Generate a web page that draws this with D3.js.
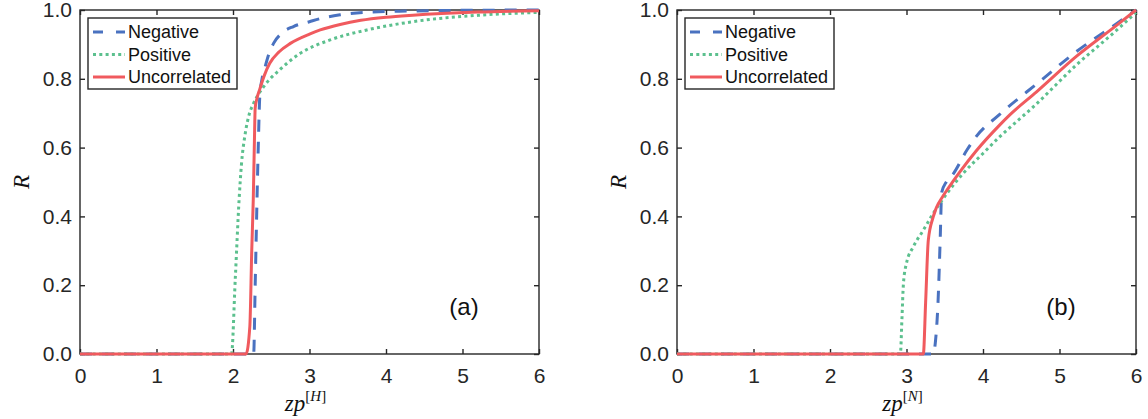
<!DOCTYPE html>
<html>
<head>
<meta charset="utf-8">
<script src="https://cdn.jsdelivr.net/npm/d3@7"></script>
<style>
  body { margin: 0; background: #fff; }
  svg { display: block; }
</style>
</head>
<body>
<svg id="chart" width="1148" height="419"></svg>
<script>
// ticks
const xTicks = [0, 1, 2, 3, 4, 5, 6];
const yTicks = [0, 0.2, 0.4, 0.6, 0.8, 1.0];
const seriesNames = ['Negative', 'Positive', 'Uncorrelated'];

// panel (a): R vs zp^[H]
const hNegX = [0, 2.27, 2.29, 2.31, 2.33, 2.35, 2.38, 2.42, 2.47, 2.53, 2.64, 2.79, 3.0, 3.14, 3.4, 3.7, 4.3, 5.0, 6.0];
const hNegR = [0, 0, 0.2, 0.41, 0.6, 0.748, 0.8, 0.835, 0.873, 0.903, 0.933, 0.952, 0.966, 0.975, 0.986, 0.993, 0.997, 0.999, 1.0];
const hPosX = [0, 1.98, 2.03, 2.08, 2.11, 2.16, 2.21, 2.27, 2.4, 2.61, 2.88, 3.27, 3.75, 4.35, 5.23, 6.0];
const hPosR = [0, 0, 0.22, 0.45, 0.55, 0.641, 0.695, 0.729, 0.777, 0.826, 0.874, 0.913, 0.942, 0.966, 0.985, 0.993];
const hUncX = [0, 2.17, 2.22, 2.245, 2.265, 2.28, 2.29, 2.31, 2.35, 2.41, 2.48, 2.6, 2.75, 3.0, 3.14, 3.4, 3.67, 4.0, 4.35, 5.2, 6.0];
const hUncR = [0, 0, 0.08, 0.3, 0.45, 0.62, 0.715, 0.74, 0.77, 0.81, 0.845, 0.878, 0.903, 0.93, 0.942, 0.958, 0.97, 0.979, 0.985, 0.994, 0.998];

// panel (b): R vs zp^[N]
const nNegX = [0, 3.35, 3.38, 3.41, 3.44, 3.46, 3.52, 3.6, 3.79, 3.91, 4.21, 4.74, 5.22, 5.75, 6.0];
const nNegR = [0, 0, 0.04, 0.14, 0.33, 0.47, 0.5, 0.52, 0.593, 0.632, 0.695, 0.792, 0.879, 0.961, 1.0];
const nPosX = [0, 2.92, 2.94, 2.96, 3.0, 3.09, 3.22, 3.35, 3.53, 3.74, 4.0, 4.22, 4.35, 4.66, 5.22, 5.75, 6.0];
const nPosR = [0, 0, 0.1, 0.205, 0.264, 0.312, 0.36, 0.409, 0.467, 0.525, 0.583, 0.632, 0.658, 0.719, 0.84, 0.942, 0.993];
const nUncX = [0, 3.22, 3.25, 3.285, 3.35, 3.48, 3.54, 3.7, 3.91, 4.22, 4.35, 4.7, 5.22, 5.75, 6.0];
const nUncR = [0, 0, 0.15, 0.331, 0.399, 0.46, 0.48, 0.53, 0.59, 0.666, 0.695, 0.762, 0.865, 0.956, 1.0];

const colors = { Negative: '#4a72c0', Positive: '#5cc08e', Uncorrelated: '#f05a5e' };
const dashes = { Negative: '12,10', Positive: '3,3.3', Uncorrelated: null };
const legendDashes = { Negative: '10,13', Positive: '3,3.3', Uncorrelated: null };
const ink = '#262626';
const sans = '"Liberation Sans", Arial, Helvetica, sans-serif';
const serif = '"Liberation Serif", "Times New Roman", serif';

const svg = d3.select('#chart');

function zip(xs, rs) {
    return xs.map((v, i) => ({ x: v, r: rs[i] }));
}

function drawPanel(opts) {
    let x = d3.scaleLinear().domain([0, 6]).range([opts.left, opts.right]);
    let y = d3.scaleLinear().domain([0, 1]).range([354, 10]);
    let g = svg.append('g');

    // frame
    g.append('rect')
        .attr('x', opts.left).attr('y', y(1))
        .attr('width', opts.right - opts.left).attr('height', y(0) - y(1))
        .attr('fill', 'none').attr('stroke', ink).attr('stroke-width', 1.4);

    // inward ticks on all four sides
    let bottom = g.append('g').attr('transform', `translate(0,${y(0)})`)
        .call(d3.axisBottom(x).tickValues(xTicks).tickSize(-5).tickPadding(14).tickFormat(d3.format('d')));
    let top = g.append('g').attr('transform', `translate(0,${y(1)})`)
        .call(d3.axisTop(x).tickValues(xTicks).tickSize(-5).tickFormat(''));
    let left = g.append('g').attr('transform', `translate(${opts.left},0)`)
        .call(d3.axisLeft(y).tickValues(yTicks).tickSize(-5).tickPadding(8).tickFormat(d3.format('.1f')));
    let right = g.append('g').attr('transform', `translate(${opts.right},0)`)
        .call(d3.axisRight(y).tickValues(yTicks).tickSize(-5).tickFormat(''));

    [bottom, top, left, right].forEach(a => {
        a.select('.domain').remove();
        a.selectAll('line').attr('stroke', ink).attr('stroke-width', 1.4);
        a.selectAll('text').attr('fill', ink).style('font-family', sans).style('font-size', '21px');
    });

    // curves
    let line = d3.line()
        .x(d => x(d.x))
        .y(d => y(d.r))
        .curve(d3.curveMonotoneX);

    opts.series.forEach(s => {
        g.append('path')
            .datum(zip(s.xs, s.rs))
            .attr('d', line)
            .attr('fill', 'none')
            .attr('stroke', colors[s.name])
            .attr('stroke-width', 3)
            .attr('stroke-dasharray', dashes[s.name]);
    });

    // legend
    let lg = g.append('g').attr('transform', `translate(${opts.left + 8},18)`);
    lg.append('rect')
        .attr('width', 149).attr('height', 71)
        .attr('fill', '#fff').attr('stroke', ink).attr('stroke-width', 1.4);
    seriesNames.forEach((name, i) => {
        let yy = 14 + i * 22.5;
        lg.append('line')
            .attr('x1', 5).attr('x2', 37).attr('y1', yy).attr('y2', yy)
            .attr('stroke', colors[name]).attr('stroke-width', 3)
            .attr('stroke-dasharray', legendDashes[name]);
        lg.append('text')
            .attr('x', 40).attr('y', yy)
            .attr('dominant-baseline', 'central')
            .attr('fill', '#111')
            .style('font-family', sans).style('font-size', '18px')
            .text(name);
    });

    // panel tag
    g.append('text')
        .attr('x', x(5.02)).attr('y', y(0.138))
        .attr('text-anchor', 'middle').attr('dominant-baseline', 'central')
        .attr('fill', '#111')
        .style('font-family', sans).style('font-size', '24px')
        .text(opts.tag);

    // y label
    g.append('text')
        .attr('transform', `translate(${opts.left - 51},${(y(0) + y(1)) / 2}) rotate(-90)`)
        .attr('text-anchor', 'middle')
        .attr('fill', '#111')
        .style('font-family', serif).style('font-size', '23px').style('font-style', 'italic')
        .text('R');

    // x label: zp^[H] / zp^[N]
    let xl = g.append('text')
        .attr('x', (opts.left + opts.right) / 2 - 4).attr('y', 411)
        .attr('text-anchor', 'middle')
        .attr('fill', '#111')
        .style('font-family', serif).style('font-size', '23px');
    xl.append('tspan').style('font-style', 'italic').text('zp');
    xl.append('tspan').attr('dy', -10).style('font-size', '15px').text('[');
    xl.append('tspan').style('font-size', '15px').style('font-style', 'italic').text(opts.sup);
    xl.append('tspan').style('font-size', '15px').text(']');
}

drawPanel({
    left: 80, right: 539, tag: '(a)', sup: 'H',
    series: [
        { name: 'Negative', xs: hNegX, rs: hNegR },
        { name: 'Positive', xs: hPosX, rs: hPosR },
        { name: 'Uncorrelated', xs: hUncX, rs: hUncR }
    ]
});

drawPanel({
    left: 677, right: 1136, tag: '(b)', sup: 'N',
    series: [
        { name: 'Negative', xs: nNegX, rs: nNegR },
        { name: 'Positive', xs: nPosX, rs: nPosR },
        { name: 'Uncorrelated', xs: nUncX, rs: nUncR }
    ]
});
</script>
</body>
</html>
